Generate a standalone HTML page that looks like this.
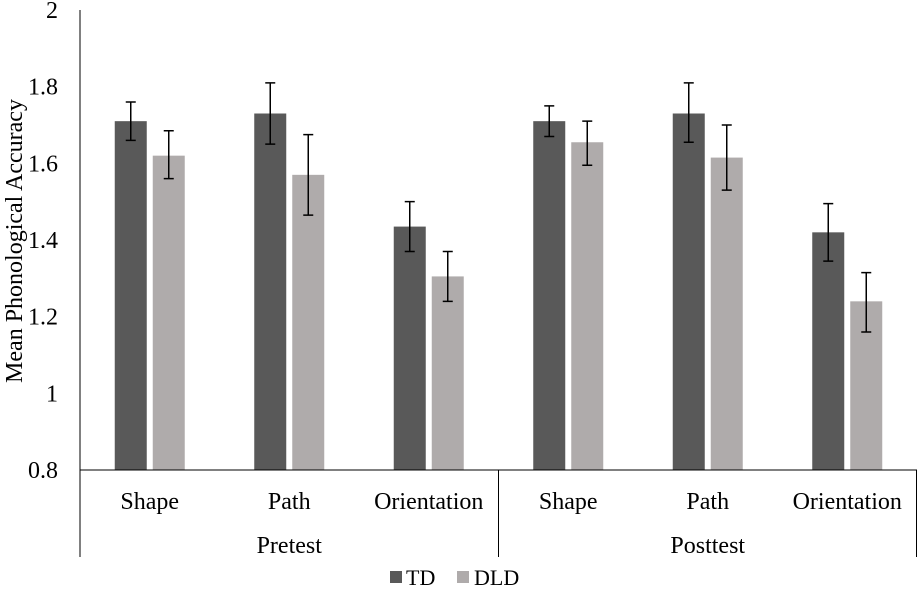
<!DOCTYPE html>
<html><head><meta charset="utf-8"><style>
body{margin:0;background:#fff;}
svg{display:block;font-family:"Liberation Serif",serif;}
</style></head><body>
<svg id="c" width="917" height="594">
</svg>
<script>
const categories=["Shape","Path","Orientation","Shape","Path","Orientation"];
const groups=["Pretest","Posttest"];
const tdValues=[1.71,1.73,1.435,1.71,1.73,1.42];
const tdHigh=[1.76,1.81,1.50,1.75,1.81,1.495];
const tdLow=[1.66,1.65,1.37,1.67,1.655,1.345];
const dldValues=[1.62,1.57,1.305,1.655,1.615,1.24];
const dldHigh=[1.685,1.675,1.37,1.71,1.70,1.315];
const dldLow=[1.56,1.465,1.24,1.595,1.53,1.16];
const yTicks=[0.8,1,1.2,1.4,1.6,1.8,2];
const yTickLabels=["0.8","1","1.2","1.4","1.6","1.8","2"];

const NS="http://www.w3.org/2000/svg";
const svg=document.getElementById('c');
const X0=80,X1=917,Y0=470,Y1=10,YMIN=0.8,YMAX=2;
const y=v=>Y0-(v-YMIN)/(YMAX-YMIN)*(Y0-Y1);
const cw=(X1-X0)/categories.length;
const xc=i=>X0+cw*(i+0.5);
function mk(t,a,txt){const e=document.createElementNS(NS,t);for(const k in a)e.setAttribute(k,a[k]);if(txt!==undefined)e.textContent=txt;svg.appendChild(e);return e;}

yTicks.forEach((t,i)=>{
 const e=mk('text',{x:58,y:y(t)+8,'text-anchor':'end','font-size':24,fill:'#000'},yTickLabels[i]);
 
 
});
const yt=mk('text',{x:0,y:0,transform:'translate(22,241) rotate(-90)','text-anchor':'middle','font-size':24},'Mean Phonological Accuracy');



function bar(v,hi,lo,xl,col,name){
 const r=mk('rect',{x:xl,y:y(v),width:32,height:Y0-y(v),fill:col});
 
 
 const cx=xl+16;
 const eb=mk('path',{d:`M${cx},${y(hi)}V${y(lo)}M${cx-5},${y(hi)}H${cx+5}M${cx-5},${y(lo)}H${cx+5}`,stroke:'#000','stroke-width':1.5,fill:'none'});
 
 
}
categories.forEach((c,i)=>{
 const cx=xc(i);
 bar(tdValues[i],tdHigh[i],tdLow[i],cx-35,'#595959','bar-td');
 bar(dldValues[i],dldHigh[i],dldLow[i],cx+3,'#afabab','bar-dld');
 const l=mk('text',{x:cx,y:509,'text-anchor':'middle','font-size':24},c);
 
 
});
groups.forEach((g,j)=>{
 const gx=X0+cw*3*(j+0.5);
 const l=mk('text',{x:gx,y:553,'text-anchor':'middle','font-size':24},g);
 
 
});
const ax=mk('path',{d:`M${X0},${Y1}V557M${X0},${Y0}H${X1}M${X0+cw*3},${Y0}V557M916.5,${Y0}V557`,stroke:'#000','stroke-width':1,fill:'none'});



const l1=mk('rect',{x:390,y:571,width:12,height:12,fill:'#595959'});


const t1=mk('text',{x:406,y:585,'font-size':22},'TD');


const l2=mk('rect',{x:457,y:571,width:12,height:12,fill:'#afabab'});


const t2=mk('text',{x:474,y:585,'font-size':22},'DLD');


</script>
</body></html>
